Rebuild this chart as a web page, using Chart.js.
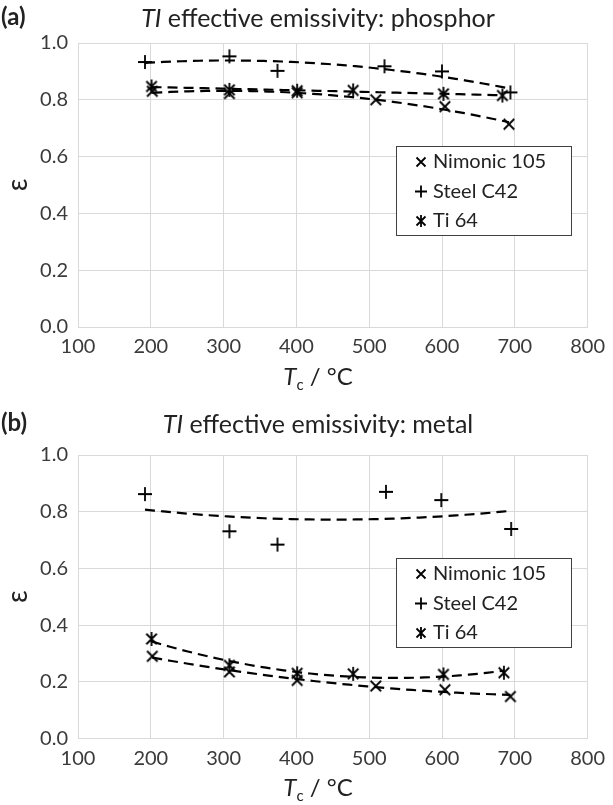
<!DOCTYPE html>
<html>
<head>
<meta charset="utf-8">
<script src="https://cdn.jsdelivr.net/npm/chart.js@4.4.0/dist/chart.umd.min.js"></script>
<style>
  body { margin: 0; background: #fff; }
  .panel { position: absolute; left: 0; width: 613px; }
</style>
</head>
<body>
<div class="panel" style="top:0"><canvas id="chartA" width="613" height="400"></canvas></div>
<div class="panel" style="top:400px"><canvas id="chartB" width="613" height="405"></canvas></div>
<script>
// axis ticks
const xTicks = [100, 200, 300, 400, 500, 600, 700, 800];
const yTicks = [0.0, 0.2, 0.4, 0.6, 0.8, 1.0];
const seriesNames = ['Nimonic 105', 'Steel C42', 'Ti 64'];

// (a) phosphor
const phNimonicT = [202, 308, 401, 509, 604, 692];
const phNimonicE = [0.830, 0.822, 0.825, 0.800, 0.776, 0.714];
const phSteelT = [192, 308, 374, 521, 600, 694];
const phSteelE = [0.933, 0.953, 0.902, 0.918, 0.900, 0.826];
const phTiT = [201, 308, 401, 478, 602, 683];
const phTiE = [0.847, 0.835, 0.832, 0.833, 0.821, 0.815];

// (b) metal
const mtNimonicT = [202, 308, 401, 509, 604, 694];
const mtNimonicE = [0.290, 0.235, 0.205, 0.185, 0.172, 0.148];
const mtSteelT = [192, 308, 374, 523, 599, 695];
const mtSteelE = [0.862, 0.731, 0.684, 0.870, 0.841, 0.739];
const mtTiT = [201, 308, 401, 478, 602, 685];
const mtTiE = [0.351, 0.258, 0.230, 0.228, 0.226, 0.232];

const FONT = "Lato, 'Open Sans', sans-serif";
const GRID = '#d9d9d9';
const TEXT = '#3a3a3a';

// marker glyphs drawn to small canvases, used as pointStyle
function makeMarker(kind, r) {
  const c = document.createElement('canvas');
  c.width = c.height = 2 * r + 4;
  const g = c.getContext('2d');
  const m = r + 2;
  g.strokeStyle = '#000';
  g.lineWidth = 1.8;
  g.beginPath();
  if (kind === 'x' || kind === 'ast') {
    const d = r * 0.75;
    g.moveTo(m - d, m - d); g.lineTo(m + d, m + d);
    g.moveTo(m + d, m - d); g.lineTo(m - d, m + d);
  }
  if (kind === 'plus') {
    g.moveTo(m - r, m); g.lineTo(m + r, m);
    g.moveTo(m, m - r); g.lineTo(m, m + r);
  }
  if (kind === 'ast') {
    g.moveTo(m, m - r); g.lineTo(m, m + r);
  }
  g.stroke();
  return c;
}
const markers = [makeMarker('x', 7), makeMarker('plus', 7), makeMarker('ast', 7)];

// 2nd order polynomial trendline (least squares), like the spreadsheet's
function quadFit(xs, ys) {
  const n = xs.length;
  const mx = xs.reduce((a, b) => a + b, 0) / n;
  let s1 = 0, s2 = 0, s3 = 0, s4 = 0, t0 = 0, t1 = 0, t2 = 0;
  xs.forEach((xv, i) => {
    const x = xv - mx, y = ys[i];
    s1 += x; s2 += x * x; s3 += x * x * x; s4 += x * x * x * x;
    t0 += y; t1 += x * y; t2 += x * x * y;
  });
  const det3 = (a) => a[0][0] * (a[1][1] * a[2][2] - a[1][2] * a[2][1])
    - a[0][1] * (a[1][0] * a[2][2] - a[1][2] * a[2][0])
    + a[0][2] * (a[1][0] * a[2][1] - a[1][1] * a[2][0]);
  const M = [[n, s1, s2], [s1, s2, s3], [s2, s3, s4]];
  const T = [t0, t1, t2];
  const D = det3(M);
  const coef = [0, 1, 2].map(k => det3(M.map((row, i) => row.map((v, j) => j === k ? T[i] : v))) / D);
  return x => coef[0] + coef[1] * (x - mx) + coef[2] * (x - mx) * (x - mx);
}

function trendPoints(xs, ys) {
  const f = quadFit(xs, ys);
  const lo = Math.min(...xs), hi = Math.max(...xs);
  const pts = [];
  for (let i = 0; i <= 40; i++) {
    const x = lo + (hi - lo) * i / 40;
    pts.push({ x, y: f(x) });
  }
  return pts;
}

function buildDatasets(groups) {
  const ds = [];
  groups.forEach(([xs, ys]) => {
    ds.push({
      type: 'line',
      data: trendPoints(xs, ys),
      borderColor: '#000',
      borderWidth: 2.2,
      borderDash: [10, 6],
      pointRadius: 0,
      fill: false,
      tension: 0,
      order: 2
    });
  });
  groups.forEach(([xs, ys], i) => {
    ds.push({
      label: seriesNames[i],
      data: xs.map((x, k) => ({ x, y: ys[k] })),
      showLine: false,
      pointStyle: markers[i],
      pointRadius: 7,
      order: 1
    });
  });
  return ds;
}

// titles, axis titles and the framed legend
const decor = {
  id: 'decor',
  afterDraw(chart, args, opts) {
    const ctx = chart.ctx;
    const area = chart.chartArea;
    ctx.save();
    ctx.fillStyle = '#222';
    ctx.textBaseline = 'middle';

    // panel tag
    ctx.font = `bold 24px ${FONT}`;
    ctx.textAlign = 'left';
    ctx.fillText(opts.tag, 1, opts.titleY - 2);

    // title: italic TI + regular text
    const cx = 318;
    ctx.font = `italic 25px ${FONT}`;
    const w1 = ctx.measureText('TI').width;
    ctx.font = `25px ${FONT}`;
    const rest = ' effective emissivity: ' + opts.title;
    const w2 = ctx.measureText(rest).width;
    let x0 = cx - (w1 + w2) / 2;
    ctx.font = `italic 25px ${FONT}`;
    ctx.fillText('TI', x0, opts.titleY);
    ctx.font = `25px ${FONT}`;
    ctx.fillText(rest, x0 + w1, opts.titleY);

    // x axis title: Tc / °C
    const ay = area.bottom + 50;
    ctx.font = `italic 24px ${FONT}`;
    const wt = ctx.measureText('T').width;
    ctx.font = `15px ${FONT}`;
    const wc = ctx.measureText('c').width;
    ctx.font = `24px ${FONT}`;
    const wr = ctx.measureText(' / °C').width;
    x0 = cx - (wt + wc + wr) / 2;
    ctx.font = `italic 24px ${FONT}`;
    ctx.fillText('T', x0, ay);
    ctx.font = `15px ${FONT}`;
    ctx.fillText('c', x0 + wt, ay + 8);
    ctx.font = `24px ${FONT}`;
    ctx.fillText(' / °C', x0 + wt + wc, ay);

    // y axis title
    ctx.save();
    ctx.translate(18, (area.top + area.bottom) / 2);
    ctx.rotate(-Math.PI / 2);
    ctx.textAlign = 'center';
    ctx.font = `28px ${FONT}`;
    ctx.fillText('ε', 0, 0);
    ctx.restore();

    // legend box
    const bx = area.left + 318, by = area.top + 103, bw = 175, bh = 89;
    ctx.fillStyle = '#fff';
    ctx.fillRect(bx, by, bw, bh);
    ctx.strokeStyle = '#404040';
    ctx.lineWidth = 1;
    ctx.strokeRect(bx + 0.5, by + 0.5, bw, bh);
    ctx.font = `20px ${FONT}`;
    ctx.fillStyle = '#222';
    ctx.textAlign = 'left';
    seriesNames.forEach((name, i) => {
      const ry = by + 16 + i * 29.5;
      const mk = makeMarker(['x', 'plus', 'ast'][i], 6);
      ctx.drawImage(mk, bx + 25 - mk.width / 2, ry - mk.height / 2);
      ctx.fillText(name, bx + 37, ry);
    });
    ctx.restore();
  }
};

function makeChart(id, groups, tag, title, titleY, padTop, axisH) {
  return new Chart(document.getElementById(id), {
    type: 'scatter',
    data: { datasets: buildDatasets(groups) },
    options: {
      responsive: false,
      animation: false,
      events: [],
      layout: { padding: { top: padTop, right: 18, left: 0, bottom: 0 } },
      plugins: {
        legend: { display: false },
        tooltip: { enabled: false },
        decor: { tag, title, titleY }
      },
      scales: {
        x: {
          type: 'linear',
          min: 100, max: 800,
          afterBuildTicks: s => { s.ticks = xTicks.map(v => ({ value: v })); },
          afterFit: s => { s.height = axisH; },
          grid: { color: GRID, drawTicks: false },
          border: { color: GRID },
          ticks: { color: TEXT, font: { family: FONT, size: 20 }, padding: 8, maxRotation: 0 }
        },
        y: {
          type: 'linear',
          min: 0, max: 1,
          afterBuildTicks: s => { s.ticks = yTicks.map(v => ({ value: v })); },
          afterFit: s => { s.width = 78; },
          grid: { color: GRID, drawTicks: false },
          border: { color: GRID },
          ticks: { color: TEXT, font: { family: FONT, size: 20 }, padding: 10, callback: v => v.toFixed(1) }
        }
      }
    },
    plugins: [decor]
  });
}

makeChart('chartA',
  [[phNimonicT, phNimonicE], [phSteelT, phSteelE], [phTiT, phTiE]],
  '(a)', 'phosphor', 19, 43, 400 - 327);
makeChart('chartB',
  [[mtNimonicT, mtNimonicE], [mtSteelT, mtSteelE], [mtTiT, mtTiE]],
  '(b)', 'metal', 25, 55, 405 - 338.5);
</script>
</body>
</html>
